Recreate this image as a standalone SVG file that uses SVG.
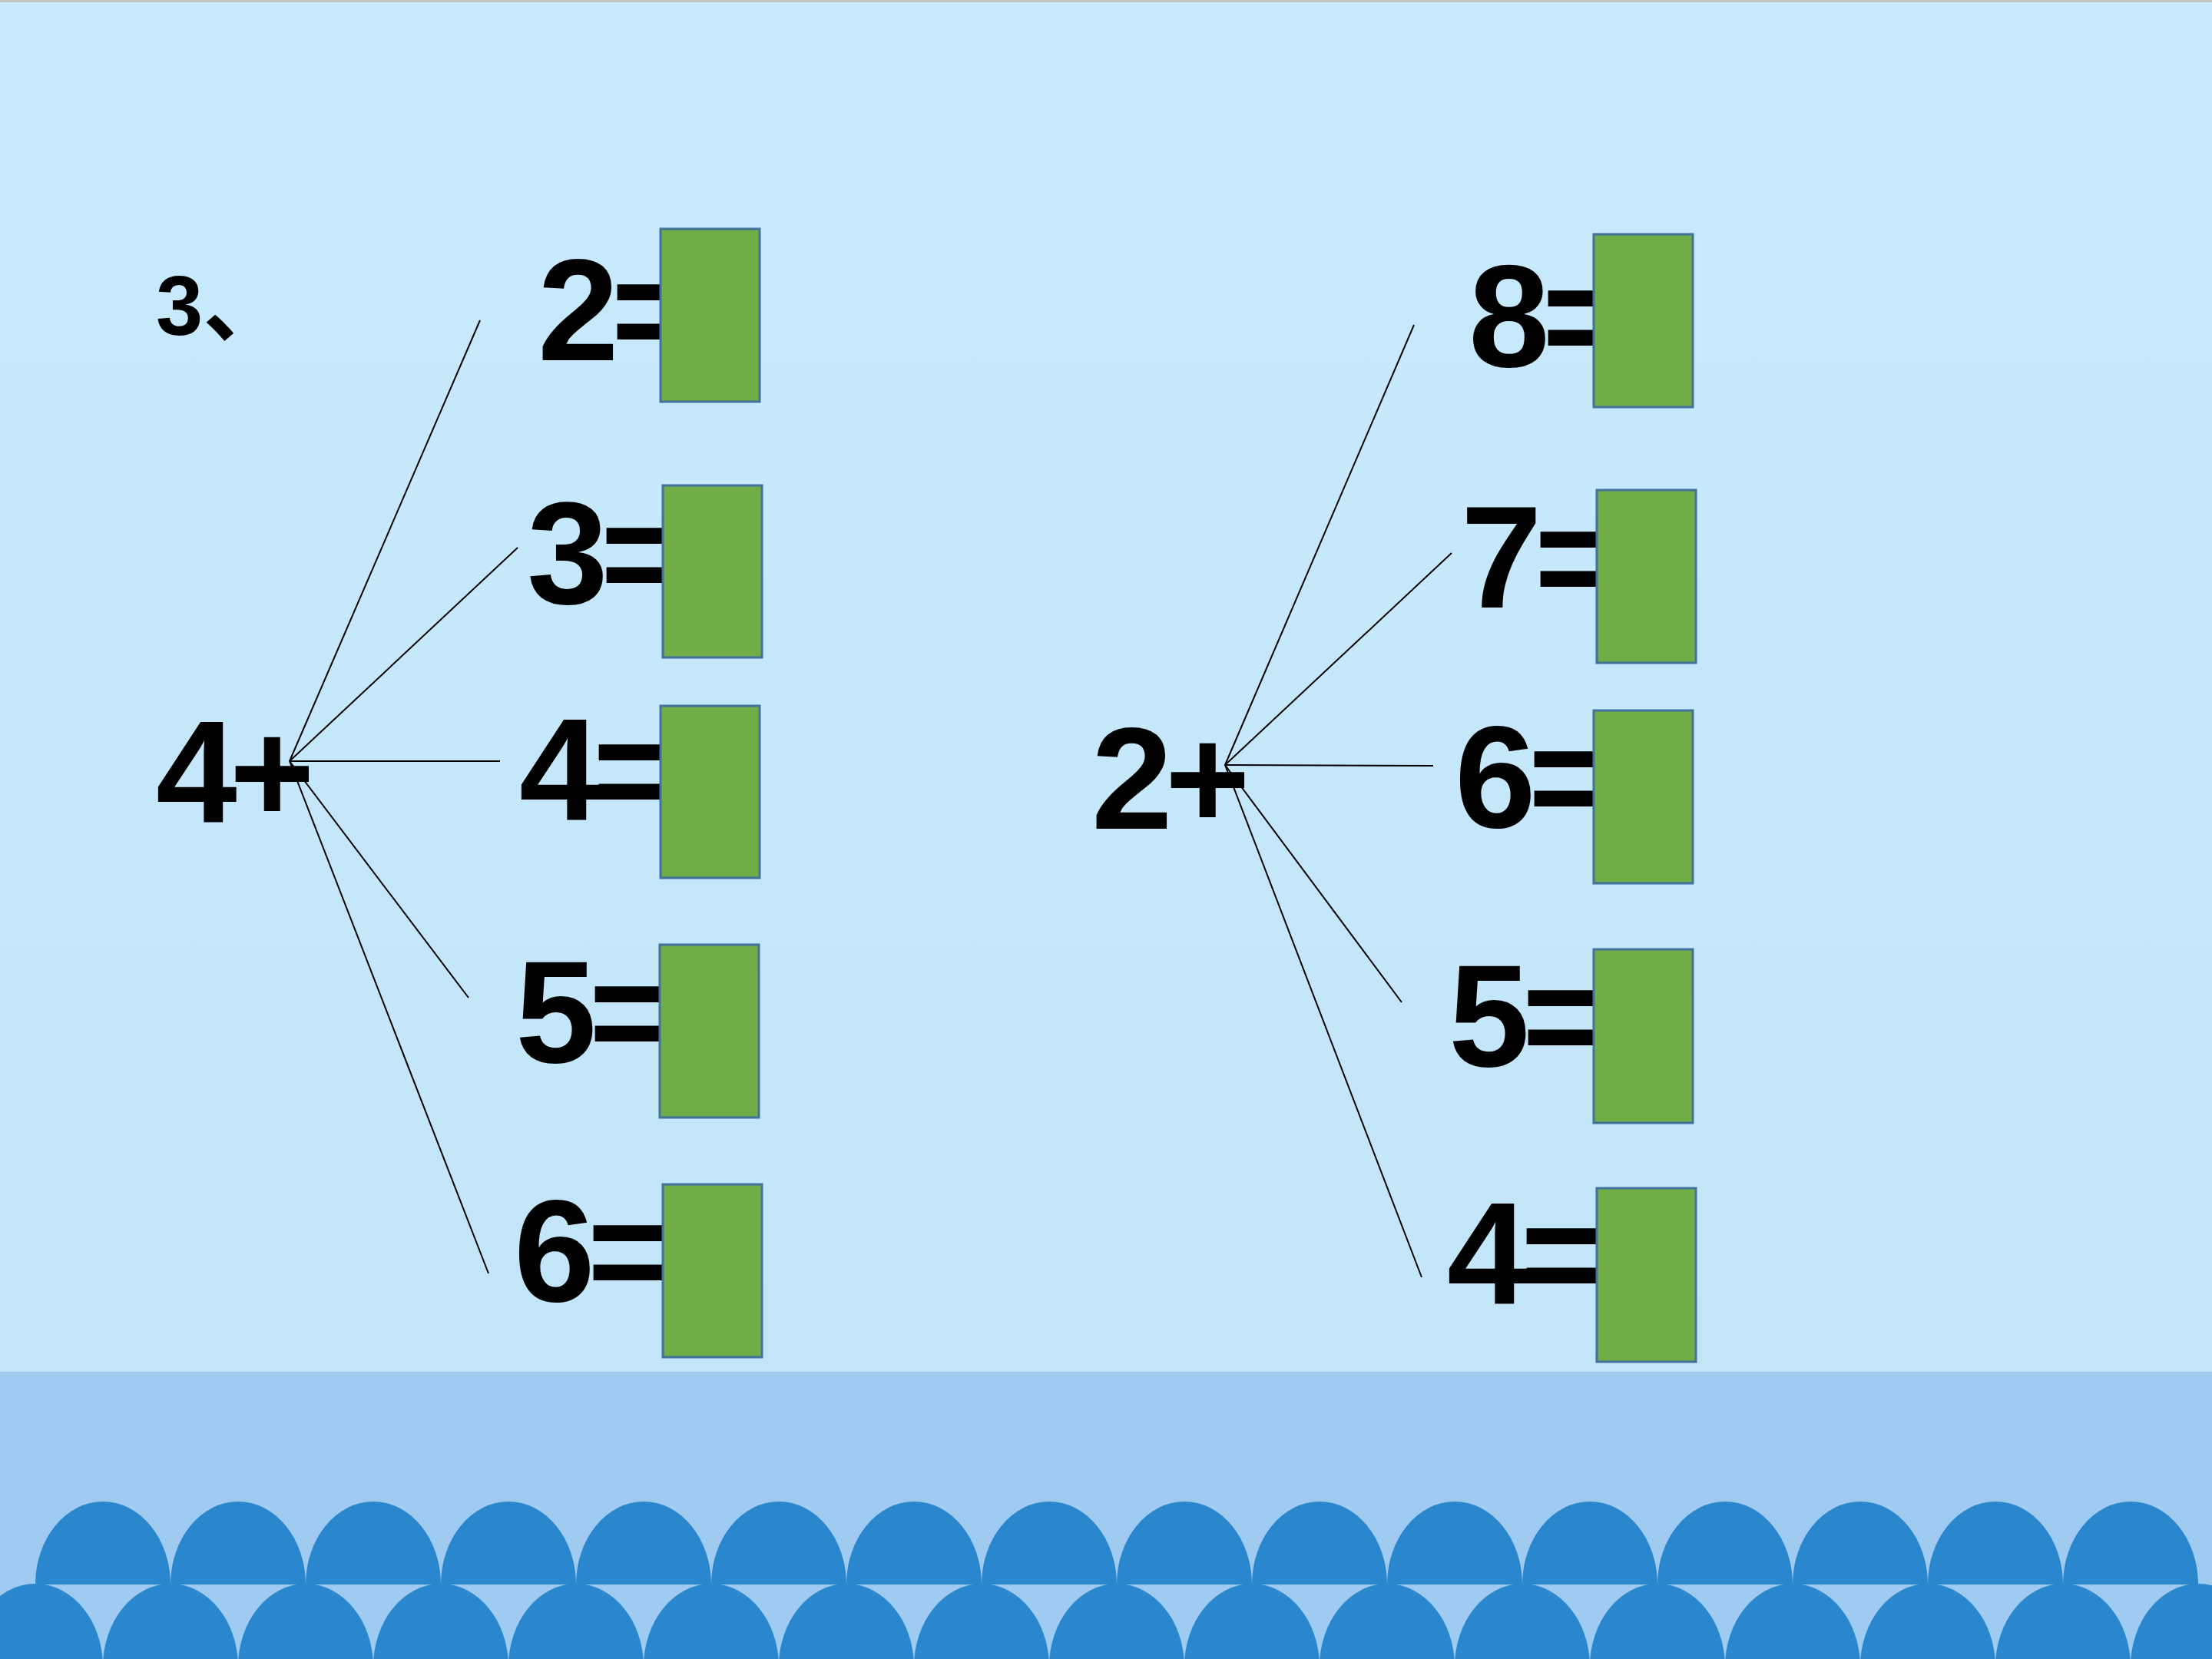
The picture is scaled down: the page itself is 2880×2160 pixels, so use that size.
<svg xmlns="http://www.w3.org/2000/svg" xmlns:xlink="http://www.w3.org/1999/xlink" width="2880" height="2160" viewBox="0 0 2880 2160">
<defs>
<linearGradient id="sky" x1="0" y1="0" x2="0" y2="1">
<stop offset="0" stop-color="#C8EAFC"/>
<stop offset="1" stop-color="#C2E5F8"/>
</linearGradient>
<path id="arch" d="M-88 108 A88 108 0 0 1 88 108 Z" fill="#2A87CD"/>
<style>
.big{font-family:"Liberation Sans",Arial,sans-serif;font-weight:bold;font-size:190px;fill:#000;letter-spacing:-10px}
.lbl{font-family:"Liberation Sans","Noto Sans CJK SC",sans-serif;font-weight:bold;font-size:110px;fill:#000}
.box{fill:#70AD47;stroke:#41719C;stroke-width:3}
.ln{stroke:#000;stroke-width:2;fill:none}
</style>
</defs>
<rect x="0" y="0" width="2880" height="1786" fill="url(#sky)"/>
<rect x="0" y="0" width="2880" height="3" fill="#C4C4C4"/>
<rect x="0" y="1786" width="2880" height="374" fill="#9FCBF0"/>
<g id="waves">
<use xlink:href="#arch" x="134" y="1955"/><use xlink:href="#arch" x="310" y="1955"/><use xlink:href="#arch" x="486" y="1955"/><use xlink:href="#arch" x="662" y="1955"/>
<use xlink:href="#arch" x="838" y="1955"/><use xlink:href="#arch" x="1014" y="1955"/><use xlink:href="#arch" x="1190" y="1955"/><use xlink:href="#arch" x="1366" y="1955"/>
<use xlink:href="#arch" x="1542" y="1955"/><use xlink:href="#arch" x="1718" y="1955"/><use xlink:href="#arch" x="1894" y="1955"/><use xlink:href="#arch" x="2070" y="1955"/>
<use xlink:href="#arch" x="2246" y="1955"/><use xlink:href="#arch" x="2422" y="1955"/><use xlink:href="#arch" x="2598" y="1955"/><use xlink:href="#arch" x="2774" y="1955"/>
<use xlink:href="#arch" x="46" y="2062"/><use xlink:href="#arch" x="222" y="2062"/><use xlink:href="#arch" x="398" y="2062"/><use xlink:href="#arch" x="574" y="2062"/>
<use xlink:href="#arch" x="750" y="2062"/><use xlink:href="#arch" x="926" y="2062"/><use xlink:href="#arch" x="1102" y="2062"/><use xlink:href="#arch" x="1278" y="2062"/>
<use xlink:href="#arch" x="1454" y="2062"/><use xlink:href="#arch" x="1630" y="2062"/><use xlink:href="#arch" x="1806" y="2062"/><use xlink:href="#arch" x="1982" y="2062"/>
<use xlink:href="#arch" x="2158" y="2062"/><use xlink:href="#arch" x="2334" y="2062"/><use xlink:href="#arch" x="2510" y="2062"/><use xlink:href="#arch" x="2686" y="2062"/>
<use xlink:href="#arch" x="2862" y="2062"/>
</g>
<g id="title"><text class="lbl" x="203" y="436">3、</text></g>
<g id="connectors">
<line class="ln" x1="377" y1="991" x2="625" y2="417"/>
<line class="ln" x1="377" y1="991" x2="674" y2="713"/>
<line class="ln" x1="377" y1="991" x2="651" y2="991"/>
<line class="ln" x1="377" y1="991" x2="610" y2="1299"/>
<line class="ln" x1="377" y1="991" x2="636" y2="1658"/>
<line class="ln" x1="1595" y1="996" x2="1841" y2="423"/>
<line class="ln" x1="1595" y1="996" x2="1890" y2="720"/>
<line class="ln" x1="1595" y1="996" x2="1866" y2="997"/>
<line class="ln" x1="1595" y1="996" x2="1825" y2="1305"/>
<line class="ln" x1="1595" y1="996" x2="1851" y2="1663"/>
</g>
<g id="src-left"><text class="big" x="203" y="1071">4+</text></g>
<g id="src-right"><text class="big" x="1421" y="1079">2+</text></g>
<g id="eq-l2"><text class="big" x="700" y="469">2=</text><rect class="box" x="860" y="298" width="129" height="225"/></g>
<g id="eq-l3"><text class="big" x="686" y="786">3=</text><rect class="box" x="863" y="632" width="129" height="224"/></g>
<g id="eq-l4"><text class="big" x="676" y="1068">4=</text><rect class="box" x="860" y="919" width="129" height="224"/></g>
<g id="eq-l5"><text class="big" x="671" y="1383">5=</text><rect class="box" x="859" y="1230" width="129" height="225"/></g>
<g id="eq-l6"><text class="big" x="669" y="1694">6=</text><rect class="box" x="863" y="1542" width="129" height="225"/></g>
<g id="eq-r8"><text class="big" x="1912" y="477">8=</text><rect class="box" x="2075" y="305" width="129" height="225"/></g>
<g id="eq-r7"><text class="big" x="1902" y="791">7=</text><rect class="box" x="2079" y="638" width="129" height="225"/></g>
<g id="eq-r6"><text class="big" x="1894" y="1077">6=</text><rect class="box" x="2075" y="925" width="129" height="225"/></g>
<g id="eq-r5"><text class="big" x="1886" y="1388">5=</text><rect class="box" x="2075" y="1236" width="129" height="226"/></g>
<g id="eq-r4"><text class="big" x="1884" y="1698">4=</text><rect class="box" x="2079" y="1547" width="129" height="226"/></g>
</svg>
